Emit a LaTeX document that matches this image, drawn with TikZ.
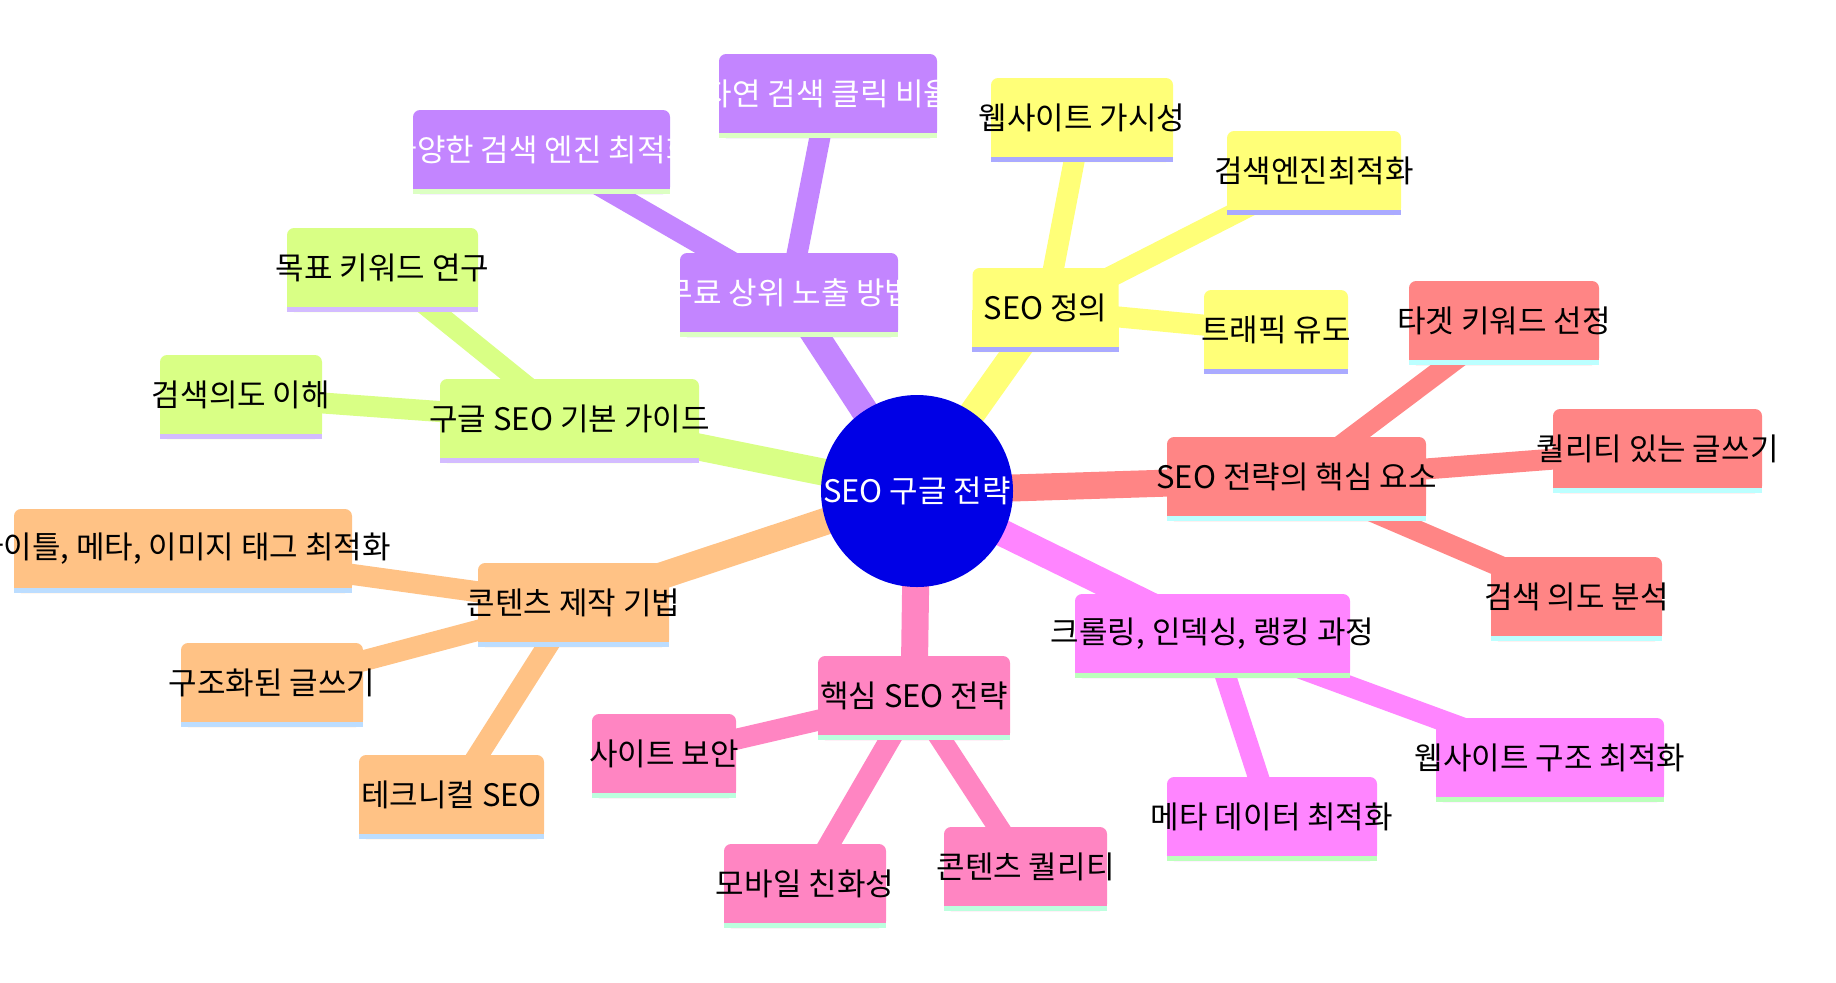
\documentclass[tikz,border=0pt]{standalone}
\usepackage{fontspec}
\setmainfont{Noto Sans CJK KR}
\usetikzlibrary{backgrounds}

\definecolor{rootblue}{HTML}{0000E6}
\definecolor{yelfill}{HTML}{FFFF78}\definecolor{yelline}{HTML}{AAAAFF}\definecolor{yelink}{HTML}{000000}
\definecolor{grnfill}{HTML}{D9FF85}\definecolor{grnline}{HTML}{D3BCFF}\definecolor{grnink}{HTML}{000000}
\definecolor{purfill}{HTML}{C385FF}\definecolor{purline}{HTML}{DCFFC3}\definecolor{purink}{HTML}{FFFFFF}
\definecolor{redfill}{HTML}{FF8585}\definecolor{redline}{HTML}{BCFFFF}\definecolor{redink}{HTML}{000000}
\definecolor{orgfill}{HTML}{FFC285}\definecolor{orgline}{HTML}{BCDDFF}\definecolor{orgink}{HTML}{000000}
\definecolor{magfill}{HTML}{FF85FF}\definecolor{magline}{HTML}{BCFFBC}\definecolor{magink}{HTML}{000000}
\definecolor{pnkfill}{HTML}{FF85C2}\definecolor{pnkline}{HTML}{BCFFDE}\definecolor{pnkink}{HTML}{000000}

% box with a stripe under it: name, x, y, width, section, text
\newcommand{\mmbox}[6]{%
  \node[box, fill=#5fill, minimum width={#4*0.5pt}] (#1) at (#2,#3) {};
  \fill[#5fill] (#1.west) rectangle (#1.south east);
  \fill[#5line] (#1.south west) rectangle ([yshift=2.65pt]#1.south east);
  \node[boxtext, text=#5ink] at ([yshift=1.3pt]#1.center) {#6};
}

\begin{document}
\begin{tikzpicture}[x=0.5pt, y=-0.5pt,
    every node/.style={font=\fontsize{15.5pt}{18pt}\selectfont},
    box/.style={rectangle, rounded corners=3.5pt, minimum height=42pt, inner sep=0pt},
    boxtext/.style={inner sep=0pt},
    trunk/.style={line width=13.5pt},
    twig/.style={line width=10.5pt}]
    \useasboundingbox (0,0) rectangle (1836,982);

    \node[circle, fill=rootblue, minimum size=96pt, inner sep=0pt, text=white] (root) at (917,491) {SEO 구글 전략};

    % purple
    \mmbox{free}{789}{295}{218}{pur}{무료 상위 노출 방법}
    \mmbox{ctr}{828}{96}{218}{pur}{자연 검색 클릭 비율}
    \mmbox{engines}{541.5}{152}{257}{pur}{다양한 검색 엔진 최적화}
    % yellow
    \mmbox{def}{1045.5}{310}{146}{yel}{SEO 정의}
    \mmbox{visible}{1082}{120}{182}{yel}{웹사이트 가시성}
    \mmbox{seoword}{1314}{173}{174}{yel}{검색엔진최적화}
    \mmbox{traffic}{1276}{332}{144}{yel}{트래픽 유도}
    % green
    \mmbox{guide}{569.5}{421}{259}{grn}{구글 SEO 기본 가이드}
    \mmbox{kwresearch}{382.5}{270}{191}{grn}{목표 키워드 연구}
    \mmbox{intent}{241}{397}{162}{grn}{검색의도 이해}
    % red
    \mmbox{core}{1296.5}{479}{259}{red}{SEO 전략의 핵심 요소}
    \mmbox{target}{1504}{323}{190}{red}{타겟 키워드 선정}
    \mmbox{quality}{1657.5}{451}{209}{red}{퀄리티 있는 글쓰기}
    \mmbox{intentan}{1576.5}{599}{171}{red}{검색 의도 분석}
    % orange
    \mmbox{craft}{573.5}{605}{191}{org}{콘텐츠 제작 기법}
    \mmbox{tags}{183}{551}{338}{org}{타이틀, 메타, 이미지 태그 최적화}
    \mmbox{structured}{272}{685}{182}{org}{구조화된 글쓰기}
    \mmbox{technical}{451.5}{797}{185}{org}{테크니컬 SEO}
    % magenta
    \mmbox{crawl}{1212.5}{636}{275}{mag}{크롤링, 인덱싱, 랭킹 과정}
    \mmbox{sitestruct}{1550}{760}{228}{mag}{웹사이트 구조 최적화}
    \mmbox{metadata}{1272}{819}{210}{mag}{메타 데이터 최적화}
    % pink
    \mmbox{key}{914}{698}{192}{pnk}{핵심 SEO 전략}
    \mmbox{security}{664}{756}{144}{pnk}{사이트 보안}
    \mmbox{mobile}{805}{886}{162}{pnk}{모바일 친화성}
    \mmbox{contentq}{1025.5}{869}{163}{pnk}{콘텐츠 퀄리티}

    \begin{scope}[on background layer]
        \draw[trunk, purfill] (root.center) -- (free.center);
        \draw[twig, purfill] (free.center) -- (ctr.center);
        \draw[twig, purfill] (free.center) -- (engines.center);
        \draw[trunk, yelfill] (root.center) -- (def.center);
        \draw[twig, yelfill] (def.center) -- (visible.center);
        \draw[twig, yelfill] (def.center) -- (seoword.center);
        \draw[twig, yelfill] (def.center) -- (traffic.center);
        \draw[trunk, grnfill] (root.center) -- (guide.center);
        \draw[twig, grnfill] (guide.center) -- (kwresearch.center);
        \draw[twig, grnfill] (guide.center) -- (intent.center);
        \draw[trunk, redfill] (root.center) -- (core.center);
        \draw[twig, redfill] (core.center) -- (target.center);
        \draw[twig, redfill] (core.center) -- (quality.center);
        \draw[twig, redfill] (core.center) -- (intentan.center);
        \draw[trunk, orgfill] (root.center) -- (craft.center);
        \draw[twig, orgfill] (craft.center) -- (tags.center);
        \draw[twig, orgfill] (craft.center) -- (structured.center);
        \draw[twig, orgfill] (craft.center) -- (technical.center);
        \draw[trunk, magfill] (root.center) -- (crawl.center);
        \draw[twig, magfill] (crawl.center) -- (sitestruct.center);
        \draw[twig, magfill] (crawl.center) -- (metadata.center);
        \draw[trunk, pnkfill] (root.center) -- (key.center);
        \draw[twig, pnkfill] (key.center) -- (security.center);
        \draw[twig, pnkfill] (key.center) -- (mobile.center);
        \draw[twig, pnkfill] (key.center) -- (contentq.center);
    \end{scope}
\end{tikzpicture}
\end{document}
